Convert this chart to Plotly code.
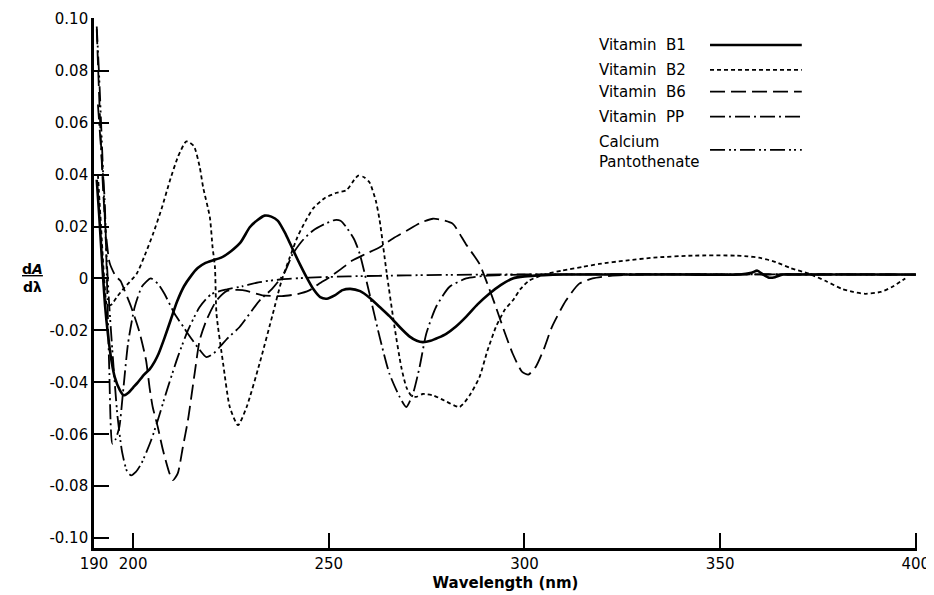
import plotly.graph_objects as go

# ---------------- data ----------------
b1_wl = [190.7, 191.3, 192.0, 192.8, 193.6, 194.5, 195.3, 196.6, 197.6, 198.8, 200.0, 201.2, 202.8,
         204.2, 205.5, 206.5, 208.0, 209.6, 211.2, 213.0, 214.8, 216.5, 218.5, 220.4, 222.5, 225.0,
         227.5, 229.8, 231.8, 233.6, 235.3, 237.0, 239.0, 240.8, 242.6, 244.3, 246.0, 247.8, 249.5,
         251.5, 253.5, 255.5, 258.0, 260.5, 263.0, 265.5, 268.1, 270.5, 272.5, 274.0, 276.0, 278.0,
         280.0, 282.5, 285.0, 288.0, 291.0, 294.0, 297.0, 300.0, 305, 310, 320, 340, 355, 358, 359.5,
         361, 362.5, 364, 366, 370, 380, 390, 400]
b1_val = [0.038, 0.025, 0.008, -0.010, -0.022, -0.032, -0.038, -0.043, -0.045, -0.044, -0.042, -0.040,
          -0.037, -0.035, -0.032, -0.029, -0.023, -0.016, -0.009, -0.003, 0.001, 0.004, 0.006, 0.007,
          0.008, 0.0105, 0.014, 0.0197, 0.0225, 0.0242, 0.0238, 0.0222, 0.017, 0.0112, 0.0055, 0.0005,
          -0.004, -0.0072, -0.0078, -0.0065, -0.0045, -0.004, -0.0049, -0.0075, -0.011, -0.0145, -0.0187,
          -0.0222, -0.0240, -0.0245, -0.0240, -0.0228, -0.0213, -0.0185, -0.0149, -0.010, -0.0059,
          -0.0025, 0.0, 0.0008, 0.0013, 0.0015, 0.0015, 0.0015, 0.0015, 0.0022, 0.003, 0.0015, 0.0003,
          0.0005, 0.0015, 0.0015, 0.0015, 0.0015, 0.0015]

b2_wl = [191.0, 191.8, 192.6, 193.4, 194.5, 195.8, 197.8, 200.9, 203.0, 205.1, 207.3, 209.4, 211.5,
         213.6, 215.5, 217.0, 217.9, 219.6, 220.3, 220.9, 221.3, 223.0, 224.7, 226.8, 229.0, 232.3,
         235.7, 237.9, 240.0, 242.0, 244.0, 246.0, 249.0, 252.0, 254.5, 256.5, 257.5, 259.0, 260.4,
         262.0, 263.0, 264.7, 266.8, 268.5, 269.8, 271.0, 272.3, 274.0, 276.6, 279.5, 283.4, 286.0,
         288.5, 290.5, 292.7, 295.0, 297.0, 299.0, 301.2, 305.0, 309.7, 315.0, 319.1, 325.9, 333.0,
         342.9, 353.9, 357.0, 359.9, 362.0, 364.2, 368.0, 372.7, 377.0, 381.1, 384.0, 387.1, 391.0,
         393.9, 397.3]
b2_val = [0.040, 0.020, 0.0, -0.0105, -0.010, -0.0072, -0.0035, 0.0018, 0.009, 0.0172, 0.027, 0.0377,
          0.047, 0.0528, 0.051, 0.043, 0.035, 0.0236, 0.012, 0.0044, -0.0136, -0.0328, -0.0495, -0.0565,
          -0.0495, -0.0328, -0.0136, -0.001, 0.008, 0.016, 0.022, 0.027, 0.031, 0.033, 0.034, 0.038,
          0.0396, 0.039, 0.037, 0.030, 0.0223, 0.0031, -0.0187, -0.034, -0.0418, -0.045, -0.0456,
          -0.0445, -0.045, -0.047, -0.0495, -0.045, -0.038, -0.028, -0.0187, -0.012, -0.0085, -0.004,
          -0.0008, 0.0015, 0.0031, 0.0045, 0.0056, 0.0069, 0.008, 0.0088, 0.0088, 0.0085, 0.008,
          0.0073, 0.0063, 0.004, 0.0018, -0.001, -0.004, -0.0052, -0.0059, -0.0052, -0.0033, 0.0]

b6_wl = [190.7, 191.2, 191.7, 192.3, 193.0, 194.0, 195.5, 196.8, 197.8, 199.5, 201.6, 203.3, 204.2,
         205.0, 206.3, 207.6, 209.3, 210.2, 211.4, 212.7, 214.0, 215.7, 217.0, 218.7, 221.3, 224.0,
         228.0, 233.0, 238.0, 242.0, 245.0, 247.5, 250.2, 253.0, 256.0, 259.5, 263.0, 266.5, 270.0,
         273.5, 276.6, 279.0, 281.7, 285.0, 288.5, 290.5, 292.7, 295.0, 297.0, 299.4, 301.0, 302.9,
         305.0, 307.0, 310.6, 314.0, 317.4, 322.0, 330.0, 400.0]
b6_val = [0.096, 0.075, 0.055, 0.035, 0.018, 0.006, 0.001, -0.001, -0.0046, -0.011, -0.0206, -0.0315,
          -0.042, -0.0495, -0.0572, -0.066, -0.0751, -0.0777, -0.0751, -0.065, -0.0546, -0.0367,
          -0.0238, -0.0162, -0.0085, -0.0048, -0.0045, -0.0065, -0.0068, -0.006, -0.0046, -0.002,
          0.0005, 0.0035, 0.0069, 0.0095, 0.012, 0.0155, 0.0185, 0.0215, 0.023, 0.0225, 0.021, 0.0133,
          0.0056, -0.002, -0.011, -0.021, -0.029, -0.036, -0.037, -0.034, -0.027, -0.0187, -0.0085,
          -0.002, 0.0, 0.001, 0.0015, 0.0015]

pp_wl = [191.0, 191.8, 192.7, 193.3, 193.9, 194.7, 195.5, 196.5, 197.4, 198.7, 200.4, 202.3, 204.5,
         206.3, 208.0, 210.6, 213.0, 214.0, 216.5, 218.7, 220.5, 222.1, 224.5, 227.2, 232.3, 235.5,
         238.6, 240.8, 243.5, 246.0, 249.0, 251.5, 253.0, 254.5, 256.5, 257.9, 260.4, 263.0, 265.5,
         268.1, 269.8, 271.5, 273.2, 274.9, 277.4, 280.8, 285.1, 290.0, 300.0, 400.0]
pp_val = [0.067, 0.050, 0.031, 0.0, -0.035, -0.0636, -0.062, -0.057, -0.044, -0.025, -0.011, -0.003,
          0.0, -0.002, -0.0059, -0.0136, -0.019, -0.0213, -0.0265, -0.0303, -0.029, -0.0264, -0.0225,
          -0.0187, -0.0085, -0.004, 0.002, 0.0095, 0.015, 0.0185, 0.021, 0.0225, 0.0222, 0.0197, 0.015,
          0.0095, -0.0059, -0.0226, -0.0367, -0.0456, -0.0495, -0.0444, -0.0341, -0.0213, -0.011,
          -0.0033, 0.0, 0.001, 0.0015, 0.0015]

ca_wl = [190.7, 191.4, 192.2, 193.0, 193.8, 194.8, 196.0, 197.2, 198.5, 199.5, 200.7, 202.1, 204.6,
         206.3, 208.9, 211.4, 214.0, 217.0, 220.0, 224.0, 228.0, 232.0, 238.0, 245.0, 255.0, 270.0,
         290.0, 400.0]
ca_val = [0.097, 0.075, 0.045, 0.015, -0.008, -0.030, -0.053, -0.067, -0.0745, -0.0758, -0.0745,
          -0.0713, -0.0623, -0.0546, -0.0418, -0.0303, -0.020, -0.011, -0.006, -0.0042, -0.0030,
          -0.0015, -0.0003, 0.0003, 0.0008, 0.0012, 0.0015, 0.0015]

series_names = ["Vitamin\u00a0\u00a0B1", "Vitamin\u00a0\u00a0B2", "Vitamin\u00a0\u00a0B6",
                "Vitamin\u00a0\u00a0PP", "Calcium<br>Pantothenate"]
x_ticks = [190, 200, 250, 300, 350, 400]
y_ticks = [0.10, 0.08, 0.06, 0.04, 0.02, 0.0, -0.02, -0.04, -0.06, -0.08, -0.10]
y_ticklabels = ["0.10", "0.08", "0.06", "0.04", "0.02", "0", "-0.02", "-0.04", "-0.06", "-0.08", "-0.10"]

# ---------------- styles ----------------
FONT = "DejaVu Sans"
styles = [
    dict(width=2.6, dash="solid"),
    dict(width=1.8, dash="4px,3px"),
    dict(width=1.8, dash="15px,6px"),
    dict(width=1.8, dash="15px,4px,2px,4px"),
    dict(width=1.8, dash="15px,4px,2px,3px,2px,4px"),
]
data = [(b1_wl, b1_val), (b2_wl, b2_val), (b6_wl, b6_val), (pp_wl, pp_val), (ca_wl, ca_val)]

fig = go.Figure()
for (xs, ys), st, nm in zip(data, styles, series_names):
    fig.add_trace(go.Scatter(x=xs, y=ys, mode="lines", name=nm, showlegend=False,
                             line=dict(color="black", width=st["width"], dash=st["dash"],
                                       shape="spline", smoothing=0.6)))

# ---------------- manual legend (text left, sample line right) ----------------
leg_y_text = [0.949, 0.902, 0.861, 0.814, 0.748]
leg_y_line = [0.949, 0.902, 0.861, 0.814, 0.751]
for nm, st, yt, yl in zip(series_names, styles, leg_y_text, leg_y_line):
    fig.add_annotation(x=0.611, y=yt, xref="paper", yref="paper", text=nm, showarrow=False,
                       xanchor="left", yanchor="middle", align="left",
                       font=dict(family=FONT, size=15, color="black"))
    fig.add_shape(type="line", xref="paper", yref="paper", x0=0.7485, x1=0.860, y0=yl, y1=yl,
                  line=dict(color="black", width=st["width"], dash=st["dash"]))

# y-axis title as a fraction dA / dλ
fig.add_annotation(x=-0.075, y=0.509, xref="paper", yref="paper",
                   text="<b><u>d<i>A</i></u><br>dλ</b>", showarrow=False,
                   xanchor="center", yanchor="middle", align="center",
                   font=dict(family=FONT, size=14, color="black"))

# the page body adds an 8px offset, so the figure is sized to fit the 934x595 window
fig.update_layout(
    width=926, height=587,
    margin=dict(l=86, r=17, t=10, b=47, autoexpand=False),
    paper_bgcolor="white", plot_bgcolor="white",
    font=dict(family=FONT, size=15, color="black"),
    xaxis=dict(range=[190, 400.3], tickvals=x_ticks, ticktext=[str(v) for v in x_ticks],
               ticks="inside", ticklen=15, tickwidth=1.8, tickcolor="black", automargin=False,
               showline=True, linewidth=2.6, linecolor="black", showgrid=False, zeroline=False,
               tickfont=dict(family=FONT, size=15),
               title=dict(text="<b>Wavelength (nm)</b>", font=dict(family=FONT, size=15), standoff=6)),
    yaxis=dict(range=[-0.1038, 0.1003], tickvals=y_ticks, ticktext=y_ticklabels,
               ticks="inside", ticklen=15, tickwidth=1.8, tickcolor="black", automargin=False,
               showline=True, linewidth=2.6, linecolor="black", showgrid=False, zeroline=False,
               tickfont=dict(family=FONT, size=15)),
)

fig.write_html("out.html")
